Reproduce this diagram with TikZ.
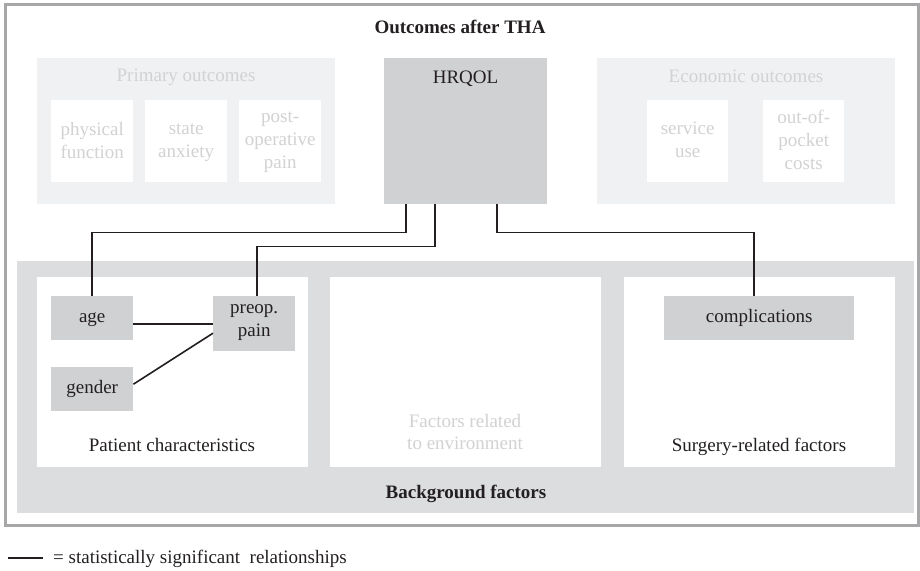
\documentclass[tikz,border=0pt]{standalone}
\usepackage{fontspec}
\setmainfont{Liberation Serif}
\definecolor{framegray}{HTML}{A7A7A9}
\definecolor{paleFill}{HTML}{F0F1F3}
\definecolor{midFill}{HTML}{D0D1D3}
\definecolor{bgFill}{HTML}{DCDDDF}
\definecolor{paleText}{HTML}{D2D2D4}
\definecolor{darkText}{HTML}{231F20}
\begin{document}
\begin{tikzpicture}[x=1pt,y=-1pt,
  font=\fontsize{19}{22.5}\selectfont,
  text=darkText,
  struts/.style={execute at begin node=\strut, execute at end node=\strut},
  box/.style={rectangle, draw=none, inner sep=0pt, anchor=north west, align=center, struts},
  palebox/.style={box, fill=paleFill},
  whitebox/.style={box, fill=white},
  whitetext/.style={lbl, text=paleText, font=\fontsize{19}{23}\selectfont},
  factorbox/.style={box, fill=midFill, text=darkText},
  lbl/.style={inner sep=0pt, align=center, struts},
  conn/.style={draw=darkText, line width=1.6pt}
]
\useasboundingbox (0,0) rectangle (920,570);
% outer frame
\draw[framegray, line width=3pt] (5,4) rectangle (918,525);
\node[lbl, font=\fontsize{19}{22.5}\selectfont\bfseries] (title) at (460,28.5) {Outcomes after THA};

% primary outcomes
\node[palebox, minimum width=298pt, minimum height=146pt] (prim) at (37,58) {};
\node[lbl, text=paleText] (primlbl) at (186,77) {Primary outcomes};
\node[whitebox, minimum width=82pt, minimum height=82pt] (pf) at (51,100) {};
\node[whitebox, minimum width=82pt, minimum height=82pt] (sa) at (145,100) {};
\node[whitebox, minimum width=82pt, minimum height=82pt] (pp) at (239,100) {};
\node[whitetext] (pftxt) at ([yshift=-2.4pt]pf.center) {physical\\function};
\node[whitetext] (satxt) at ([yshift=-2.4pt]sa.center) {state\\anxiety};
\node[whitetext] (pptxt) at ([yshift=-2.4pt]pp.center) {post-\\operative\\pain};

% HRQOL
\node[factorbox, minimum width=163pt, minimum height=146pt] (hrqol) at (384,58) {};
\node[lbl] (hrqollbl) at (465.5,78.5) {HRQOL};

% economic outcomes
\node[palebox, minimum width=298pt, minimum height=146pt] (econ) at (597,58) {};
\node[lbl, text=paleText] (econlbl) at (746,77.5) {Economic outcomes};
\node[whitebox, minimum width=81pt, minimum height=82pt] (su) at (647,100) {};
\node[whitebox, minimum width=81pt, minimum height=82pt] (oop) at (763,100) {};
\node[whitetext] (sutxt) at ([yshift=-2.4pt]su.center) {service\\use};
\node[whitetext] (ooptxt) at ([yshift=-2.4pt]oop.center) {out-of-\\pocket\\costs};

% background factors
\node[box, fill=bgFill, minimum width=897pt, minimum height=252pt] (bg) at (17,261) {};
\node[lbl, font=\fontsize{19}{22.5}\selectfont\bfseries] (bglbl) at (466,493.5) {Background factors};
\node[box, fill=white, minimum width=271pt, minimum height=190pt] (pat) at (37,277) {};
\node[box, fill=white, minimum width=271pt, minimum height=190pt] (env) at (330,277) {};
\node[box, fill=white, minimum width=271pt, minimum height=190pt] (surg) at (624,277) {};
\node[lbl] (patlbl) at (172,446.5) {Patient characteristics};
\node[lbl, text=paleText] (envlbl) at (465,435.5) {Factors related\\to environment};
\node[lbl] (surglbl) at (759,446.5) {Surgery-related factors};

% factor boxes
\node[factorbox, minimum width=82pt, minimum height=44pt] (age) at (51,296) {age};
\node[factorbox, minimum width=82pt, minimum height=44pt] (gender) at (51,367) {gender};
\node[factorbox, minimum width=82pt, minimum height=55pt] (preop) at (213,296) {preop.\\pain};
\node[factorbox, minimum width=190pt, minimum height=44pt] (compl) at (664,296) {complications};

% connectors
\draw[conn] ([xshift=22pt]hrqol.south west) -- ++(0,28) -| (age.north);
\draw[conn] ([xshift=51pt]hrqol.south west) -- ++(0,42) -| ([xshift=3pt]preop.north);
\draw[conn] ([xshift=113pt]hrqol.south west) -- ++(0,28) -| ([xshift=-5pt]compl.north);
\draw[conn] (preop.west -| age.east) -- (preop.west);
\draw[conn] ([yshift=5pt]gender.east) -- ([yshift=-9.5pt]preop.west);

% legend
\coordinate (legA) at (8,558);
\coordinate (legB) at (43,558);
\draw[conn] (legA) -- (legB);
\node[lbl, anchor=west] (legtxt) at (53,558.5) {= statistically significant\ \ relationships};
\end{tikzpicture}
\end{document}
